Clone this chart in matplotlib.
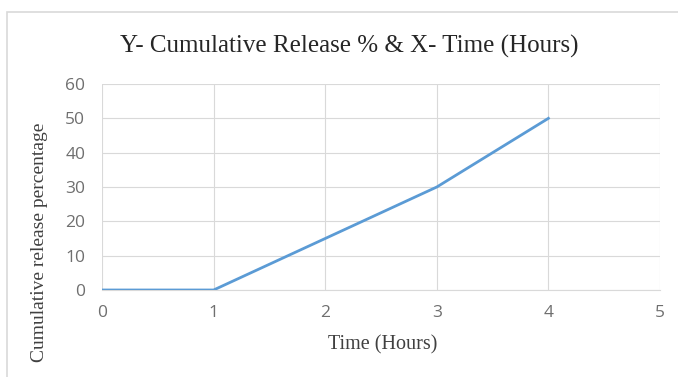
import matplotlib.pyplot as plt
from matplotlib.patches import Rectangle

# data
time_hours = [0, 1, 2, 3, 4]
release_pct = [0, 0, 15, 30, 50]
x_ticks = [0, 1, 2, 3, 4, 5]
y_ticks = [0, 10, 20, 30, 40, 50, 60]

fig = plt.figure(figsize=(6.78, 3.77), dpi=100)

# light frame around the chart area (runs off right/bottom edge)
fig.patches.append(Rectangle((7 / 678, -0.1), 1.0, 1 - 12 / 377 + 0.1,
                             transform=fig.transFigure, fill=False,
                             edgecolor='#d9d9d9', linewidth=1.2))

ax = fig.add_axes([102 / 678, 1 - 290 / 377, 558 / 678, 206 / 377])
ax.plot(time_hours, release_pct, color='#5b9bd5', linewidth=2.0, zorder=3)

ax.set_xlim(0, 5)
ax.set_ylim(0, 60)
ax.set_xticks(x_ticks)
ax.set_yticks(y_ticks)
ax.grid(True, color='#d9d9d9', linewidth=0.8)
ax.set_axisbelow(True)
for side in ['top', 'right', 'left']:
    ax.spines[side].set_visible(False)
ax.spines['bottom'].set_color('#d9d9d9')
ax.tick_params(length=0, labelsize=12.5, colors='#6f6f6f')
ax.tick_params(axis='x', pad=11)
ax.tick_params(axis='y', pad=12)
for lbl in ax.get_xticklabels() + ax.get_yticklabels():
    lbl.set_family('Open Sans')

fig.text(349 / 678, 1 - 46 / 377, 'Y- Cumulative Release % & X- Time (Hours)',
         ha='center', va='center', fontsize=18, family='Liberation Serif',
         color='#262626')
fig.text(383 / 678, 1 - 345 / 377, 'Time (Hours)', ha='center', va='center',
         fontsize=14.5, family='Liberation Serif', color='#404040')
fig.text(40 / 678, 1 - 242 / 377, 'Cumulative release percentage', ha='center',
         va='center', rotation=90, fontsize=14, family='Liberation Serif',
         color='#404040')

plt.savefig('out.png', dpi=100)
